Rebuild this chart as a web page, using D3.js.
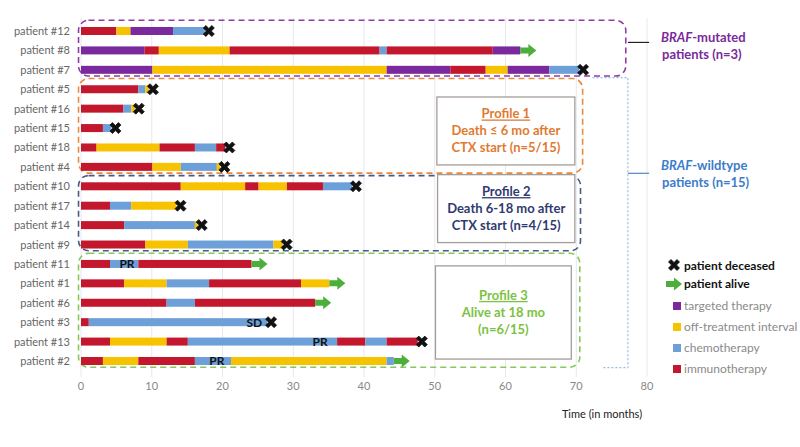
<!DOCTYPE html>
<html>
<head>
<meta charset="utf-8">
<script src="https://cdn.jsdelivr.net/npm/d3@7"></script>
<style>
  body { margin: 0; background: #fff; }
  svg { font-family: Lato, "Open Sans", sans-serif; }
</style>
</head>
<body>
<svg id="chart" width="800" height="447"></svg>
<script>
// rows, top to bottom
const patients = ["patient #12", "patient #8", "patient #7", "patient #5", "patient #16", "patient #15",
  "patient #18", "patient #4", "patient #10", "patient #17", "patient #14", "patient #9",
  "patient #11", "patient #1", "patient #6", "patient #3", "patient #13", "patient #2"];

// treatment periods per patient: [therapy, end month] (each starts where the previous ends)
const periods = [
  [["I", 5], ["O", 7], ["T", 13], ["C", 17.5]],
  [["T", 9], ["I", 11], ["O", 21], ["I", 42.2], ["C", 43.2], ["I", 58.2], ["T", 62.1]],
  [["T", 10.1], ["O", 43.2], ["T", 52.2], ["I", 57.2], ["O", 60.3], ["T", 66.2], ["C", 70.4]],
  [["I", 8.1], ["C", 9.1], ["O", 9.6]],
  [["I", 6], ["C", 7.1], ["O", 7.6]],
  [["I", 3.1], ["C", 4.3]],
  [["I", 2.2], ["O", 11.1], ["I", 16.1], ["C", 19.1], ["I", 20.4]],
  [["I", 10.1], ["O", 14.1], ["C", 19.2], ["O", 19.7]],
  [["I", 14.1], ["O", 23.2], ["I", 25.1], ["O", 29.1], ["I", 34.2], ["C", 38.3]],
  [["I", 4.1], ["C", 7.1], ["O", 13.5]],
  [["I", 6.1], ["C", 16.1], ["O", 16.5]],
  [["I", 9.1], ["O", 15.1], ["C", 27.2], ["O", 28.5]],
  [["I", 4.1], ["C", 8.1], ["I", 24.1]],
  [["I", 6.1], ["O", 12.1], ["C", 18.1], ["I", 31.1], ["O", 35.1]],
  [["I", 12.1], ["C", 16.1], ["I", 33.1]],
  [["I", 1.1], ["C", 26.3]],
  [["I", 4.1], ["O", 12.1], ["I", 15.1], ["C", 36.2], ["I", 40.2], ["C", 43.2], ["I", 47.6]],
  [["I", 3.1], ["O", 8.1], ["I", 16.1], ["C", 21.2], ["O", 43.2], ["C", 44.2]]
];

// D = deceased, A = alive
const outcomes = ["D", "A", "D", "D", "D", "D", "D", "D", "D", "D", "D", "D", "A", "A", "A", "D", "D", "A"];

// response labels: [patient, month, text]
const responses = [["patient #11", 6.5, "PR"], ["patient #3", 24.5, "SD"], ["patient #13", 33.8, "PR"], ["patient #2", 19.2, "PR"]];

const therapyKeys = ["T", "O", "C", "I"];
const therapyNames = ["targeted therapy", "off-treatment interval", "chemotherapy", "immunotherapy"];
const therapyColors = ["#7a2a9c", "#f7c300", "#6d9fd8", "#c3172d"];

const xTicks = [0, 10, 20, 30, 40, 50, 60, 70, 80];

// boxes: [first row, last row, right edge in months, colour, dash]
const groupBoxes = [
  ["patient #12", "patient #7", 77.0, "#8e3ca8", "6,4"],
  ["patient #5", "patient #4", 70.9, "#e8893c", "6,4"],
  ["patient #10", "patient #9", 70.6, "#4a5a86", "6,4"],
  ["patient #11", "patient #2", 70.5, "#86c95a", "6,4"]
];

const profileTitles = ["Profile 1", "Profile 2", "Profile 3"];
const profileLines = [["Death \u2264 6 mo after", "CTX start (n=5/15)"], ["Death 6-18 mo after", "CTX start (n=4/15)"], ["Alive at 18 mo", "(n=6/15)"]];
const profileColors = ["#df7a32", "#2f3a70", "#7cc242"];

const svg = d3.select("#chart");
const color = d3.scaleOrdinal().domain(therapyKeys).range(therapyColors);

const x = d3.scaleLinear().domain([0, 80]).range([81, 647]);
const y = d3.scaleBand().domain(patients).range([21.3, 370.7]);
const yc = p => y(p) + y.bandwidth() / 2;
const barH = 8;

// grid
svg.append("g").selectAll("line")
  .data(xTicks)
  .join("line")
  .attr("x1", d => x(d)).attr("x2", d => x(d))
  .attr("y1", 18).attr("y2", 377)
  .attr("stroke", "#e6e8ef").attr("stroke-width", 1);

svg.append("g").selectAll("text")
  .data(xTicks)
  .join("text")
  .attr("x", d => x(d)).attr("y", 390)
  .attr("text-anchor", "middle")
  .attr("font-size", 11).attr("fill", "#888")
  .text(d => d);

svg.append("text")
  .attr("x", 602).attr("y", 418)
  .attr("text-anchor", "middle")
  .attr("font-size", 11).attr("fill", "#222")
  .text("Time (in months)");

// y labels
svg.append("g").selectAll("text")
  .data(patients)
  .join("text")
  .attr("x", 70).attr("y", d => yc(d) + 4)
  .attr("text-anchor", "end")
  .attr("font-size", 11).attr("fill", "#666")
  .text(d => d);

// group outlines
svg.append("g").selectAll("rect")
  .data(groupBoxes)
  .join("rect")
  .attr("x", x(-0.35))
  .attr("y", d => y(d[0]) - 1)
  .attr("width", d => x(d[2]) - x(-0.35))
  .attr("height", d => y(d[1]) + y.bandwidth() - y(d[0]) - 2.5)
  .attr("rx", 10)
  .attr("fill", "none")
  .attr("stroke", d => d[3])
  .attr("stroke-width", 1.6)
  .attr("stroke-dasharray", d => d[4]);

// bars
const segs = [];
periods.forEach((list, i) => {
  let start = 0;
  list.forEach(([k, end]) => { segs.push({ p: patients[i], k, start, end }); start = end; });
});

svg.append("g").selectAll("rect")
  .data(segs)
  .join("rect")
  .attr("x", d => x(d.start))
  .attr("y", d => yc(d.p) - barH / 2)
  .attr("width", d => x(d.end) - x(d.start))
  .attr("height", barH)
  .attr("fill", d => color(d.k));

// outcome markers
const crossPath = "M-5.5,-3 L-3,-5.5 L0,-2.5 L3,-5.5 L5.5,-3 L2.5,0 L5.5,3 L3,5.5 L0,2.5 L-3,5.5 L-5.5,3 L-2.5,0 Z";
const arrowPath = "M0,-3 L8,-3 L8,-6.5 L16,0 L8,6.5 L8,3 L0,3 Z";

const ends = patients.map((p, i) => ({ p, end: periods[i][periods[i].length - 1][1], o: outcomes[i] }));

svg.append("g").selectAll("path")
  .data(ends)
  .join("path")
  .attr("transform", d => d.o === "D"
    ? `translate(${x(d.end) + 4},${yc(d.p)})`
    : `translate(${x(d.end)},${yc(d.p)})`)
  .attr("d", d => d.o === "D" ? crossPath : arrowPath)
  .attr("fill", d => d.o === "D" ? "#111" : "#4caf3c")
  .attr("stroke", d => d.o === "D" ? "#111" : "none")
  .attr("stroke-width", 0.8)
  .attr("stroke-linejoin", "round");

// response labels
svg.append("g").selectAll("text")
  .data(responses)
  .join("text")
  .attr("x", d => x(d[1])).attr("y", d => yc(d[0]) + 4.5)
  .attr("text-anchor", "middle")
  .attr("font-size", 12).attr("font-weight", 700).attr("fill", "#111")
  .text(d => d[2]);

// profile boxes
const profileRows = [["patient #5", "patient #4"], ["patient #10", "patient #9"], ["patient #11", "patient #2"]];
const profileBoxX = [50.3, 50.4, 50.1];
const profileBoxW = [19.5, 19.4, 19.2];
const profileBoxPad = [[0.9, 0.4], [-0.1, 0.4], [0.6, 0.4]];

profileTitles.forEach((t, i) => {
  const top = y(profileRows[i][0]) + profileBoxPad[i][0] * y.bandwidth();
  const bot = y(profileRows[i][1]) + profileBoxPad[i][1] * y.bandwidth();
  const x0 = x(profileBoxX[i]), w = x(profileBoxX[i] + profileBoxW[i]) - x0;
  const g = svg.append("g");
  g.append("rect")
    .attr("x", x0).attr("y", top)
    .attr("width", w).attr("height", bot - top)
    .attr("fill", "#fff").attr("stroke", "#a59d98").attr("stroke-width", 1.3);
  const cx = x0 + w / 2, cy = (top + bot) / 2;
  const lines = [t].concat(profileLines[i]);
  lines.forEach((s, j) => {
    g.append("text")
      .attr("x", cx).attr("y", cy + (j - 1) * 17 + 4.5)
      .attr("text-anchor", "middle")
      .attr("font-size", 13).attr("font-weight", 700)
      .attr("fill", profileColors[i])
      .attr("text-decoration", j === 0 ? "underline" : null)
      .text(s);
  });
});

// group brackets and labels
const wild = "#8fbdee";
svg.append("path")
  .attr("d", `M${x(72.3)},${y("patient #5") - 2} H${x(77.3)} V${y("patient #2") + y.bandwidth() - 3} H${x(73.7)}`)
  .attr("fill", "none").attr("stroke", wild).attr("stroke-width", 1.2).attr("stroke-dasharray", "2,2");

svg.append("line")
  .attr("x1", x(77.3)).attr("x2", x(80.3))
  .attr("y1", yc("patient #8") - 8).attr("y2", yc("patient #8") - 8)
  .attr("stroke", "#222").attr("stroke-width", 1.2);
svg.append("line")
  .attr("x1", x(77.3)).attr("x2", x(80.3))
  .attr("y1", yc("patient #10") - 13).attr("y2", yc("patient #10") - 13)
  .attr("stroke", "#4f86cc").attr("stroke-width", 1.2);

const groupLabels = [["BRAF", "-mutated", "patients (n=3)", "#7a2a9c", 41.5], ["BRAF", "-wildtype", "patients (n=15)", "#3c7ccb", 170]];
groupLabels.forEach(([it, rest, line2, c, yy]) => {
  const t = svg.append("text")
    .attr("x", 661).attr("y", yy)
    .attr("font-size", 13).attr("font-weight", 700).attr("fill", c);
  t.append("tspan").attr("font-style", "italic").text(it);
  t.append("tspan").text(rest);
  svg.append("text")
    .attr("x", 662).attr("y", yy + 17)
    .attr("font-size", 13).attr("font-weight", 700).attr("fill", c)
    .text(line2);
});

// legend
const lg = svg.append("g");
lg.append("path").attr("d", crossPath)
  .attr("transform", "translate(674,265)")
  .attr("fill", "#111").attr("stroke", "#111").attr("stroke-width", 0.8).attr("stroke-linejoin", "round");
lg.append("text").attr("x", 684).attr("y", 269.5)
  .attr("font-size", 12).attr("font-weight", 700).attr("fill", "#111").text("patient deceased");
lg.append("path").attr("d", arrowPath)
  .attr("transform", "translate(666,284)")
  .attr("fill", "#4caf3c");
lg.append("text").attr("x", 684).attr("y", 287.5)
  .attr("font-size", 12).attr("font-weight", 700).attr("fill", "#111").text("patient alive");

lg.selectAll("rect.key")
  .data(therapyKeys)
  .join("rect")
  .attr("class", "key")
  .attr("x", 673).attr("y", (d, i) => 302 + i * 21)
  .attr("width", 8).attr("height", 8)
  .attr("fill", d => color(d));
lg.selectAll("text.key")
  .data(therapyNames)
  .join("text")
  .attr("class", "key")
  .attr("x", 684).attr("y", (d, i) => 310 + i * 21)
  .attr("font-size", 12).attr("fill", "#8a8a8a")
  .text(d => d);
</script>
</body>
</html>
